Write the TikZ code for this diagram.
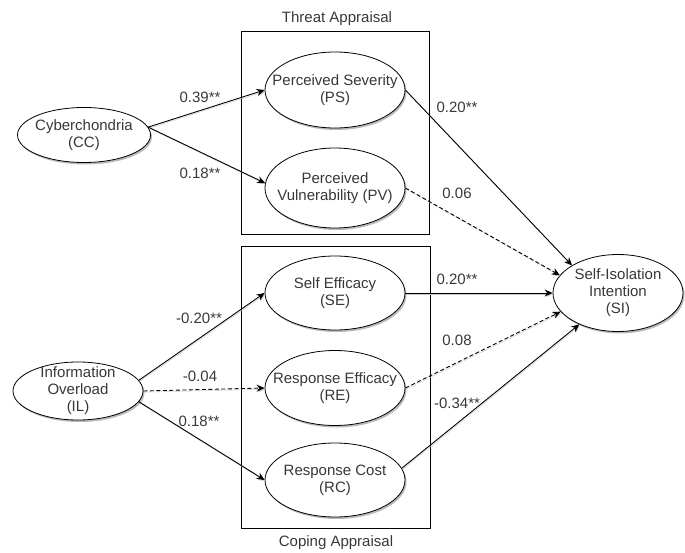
\documentclass[tikz,border=0pt]{standalone}
\usepackage{fontspec}
\setmainfont{Liberation Sans}
\usetikzlibrary{shapes.geometric,arrows.meta,shadows}
\begin{document}
\begin{tikzpicture}[x=1pt,y=-1pt,
 every node/.style={font=\fontsize{15}{17}\selectfont, text=black!78},
 var/.style={ellipse, draw=black, line width=0.8pt, fill=white, inner sep=0pt,
   drop shadow={shadow xshift=1.5pt, shadow yshift=-2pt, fill=black!45, opacity=0.6}},
 vtxt/.style={align=center, inner sep=0pt},
 grp/.style={draw=black, line width=0.8pt, inner sep=0pt},
 lnk/.style={line width=0.9pt, -{Stealth[length=8pt,width=7pt]},
   preaction={draw=black!22, -{Stealth[length=8pt,width=7pt]}, transform canvas={xshift=0.8pt,yshift=-1.2pt}}},
 dsh/.style={lnk, dash pattern=on 4pt off 2.5pt},
 lbl/.style={inner sep=0pt}
]
\useasboundingbox (0,0) rectangle (685,553);

% group boxes
\node[grp, minimum width=188pt, minimum height=203pt] (tbox) at (335,132.5) {};
\node[grp, minimum width=189pt, minimum height=282pt] (cbox) at (335.5,387) {};
\node (ttl) at (337,19) {Threat Appraisal};
\node (ctl) at (336,543) {Coping Appraisal};

% variables
\node[var, minimum width=133pt, minimum height=55pt] (cc) at (84,135) {};
\node[vtxt] (cct) at (cc) {Cyberchondria\\(CC)};
\node[var, minimum width=140pt, minimum height=76pt] (ps) at (335,90) {};
\node[vtxt] (pst) at (ps) {Perceived Severity\\(PS)};
\node[var, minimum width=140pt, minimum height=80pt] (pv) at (335,188) {};
\node[vtxt] (pvt) at (pv) {Perceived\\Vulnerability (PV)};
\node[var, minimum width=140pt, minimum height=74pt] (se) at (335,293) {};
\node[vtxt] (set) at (se) {Self Efficacy\\(SE)};
\node[var, minimum width=140pt, minimum height=75pt] (re) at (335,388) {};
\node[vtxt] (ret) at (re) {Response Efficacy\\(RE)};
\node[var, minimum width=140pt, minimum height=74pt] (rc) at (335,480) {};
\node[vtxt] (rct) at (rc) {Response Cost\\(RC)};
\node[var, minimum width=130pt, minimum height=58pt] (il) at (78,391) {};
\node[vtxt] (ilt) at (il) {Information\\Overload\\(IL)};
\node[var, minimum width=130pt, minimum height=77pt] (si) at (618,293) {};
\node[vtxt] (sit) at (si) {Self-Isolation\\Intention\\(SI)};

% paths
\draw[lnk] (cc.7) -- (ps.west);
\draw[lnk] (cc.7) -- (pv.176);
\draw[lnk] (ps.east) -- (si.149);
\draw[dsh] (pv.east) -- (si.163);
\draw[lnk] (se.east) -- (si.west);
\draw[dsh] (re.east) -- (si.198);
\draw[lnk] (rc.10) -- (si.219);
\draw[lnk] (il.10) -- (se.west);
\draw[dsh] (il.east) -- (re.west);
\draw[lnk] (il.-10) -- (rc.west);

% coefficients
\node[lbl] (l1) at (200,97) {0.39**};
\node[lbl] (l2) at (200,173) {0.18**};
\node[lbl] (l3) at (457,107) {0.20**};
\node[lbl] (l4) at (457,193) {0.06};
\node[lbl] (l5) at (457,279) {0.20**};
\node[lbl] (l6) at (457,340) {0.08};
\node[lbl] (l7) at (457,403) {-0.34**};
\node[lbl] (l8) at (199,318) {-0.20**};
\node[lbl] (l9) at (200,376) {-0.04};
\node[lbl] (l10) at (199,421) {0.18**};
\end{tikzpicture}
\end{document}
